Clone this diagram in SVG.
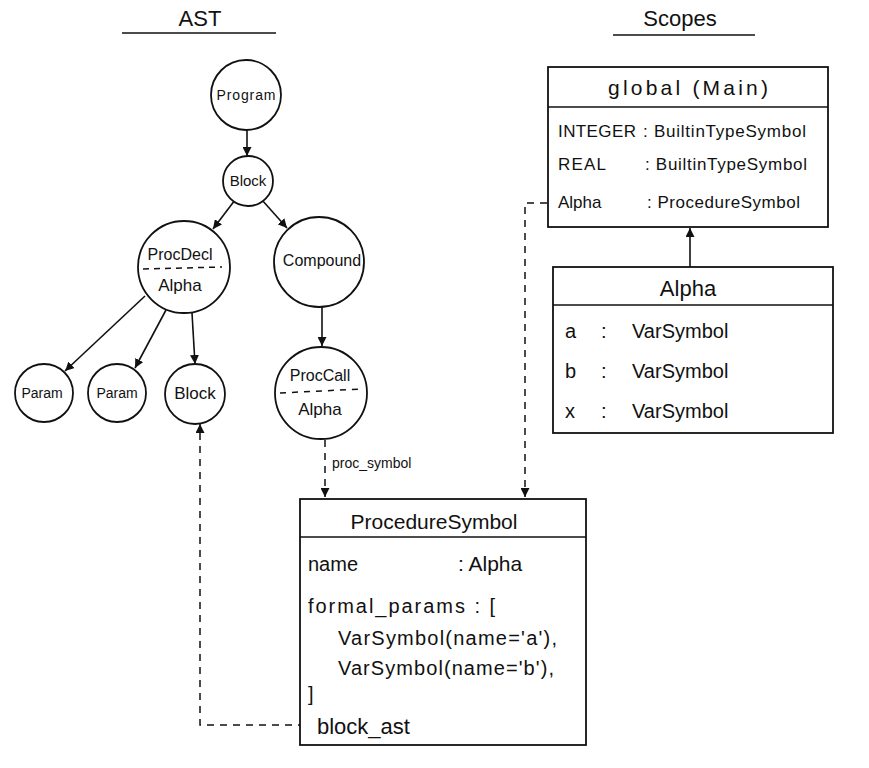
<svg xmlns="http://www.w3.org/2000/svg" width="869" height="768" viewBox="0 0 869 768">
<defs>
<marker id="ah" viewBox="0 0 10 10" refX="10" refY="5" markerWidth="9" markerHeight="9" markerUnits="userSpaceOnUse" orient="auto">
<path d="M0,0 L10,5 L0,10 z" fill="#111"/>
</marker>
</defs>
<style>
.n{fill:#fff;stroke:#111;stroke-width:1.8}
.b{fill:#fff;stroke:#111;stroke-width:1.8}
.l{stroke:#111;stroke-width:1.6;fill:none}
.e{stroke:#111;stroke-width:1.6;fill:none;marker-end:url(#ah)}
.d{stroke:#111;stroke-width:1.5;fill:none;stroke-dasharray:7 6}
.de{stroke:#111;stroke-width:1.5;fill:none;stroke-dasharray:7 6;marker-end:url(#ah)}
text{font-family:"Liberation Sans",Arial,sans-serif;fill:#111}
.c{font-size:14px;text-anchor:middle}
.h{font-size:21px;text-anchor:middle}
.r{font-size:17px}
.p{font-size:20px}
.v{font-size:20px}
.t{font-size:22px;text-anchor:middle}
</style>
<rect width="869" height="768" fill="#fff"/>
<g id="titles">
<text class="t" x="200" y="26">AST</text>
<line class="l" x1="122" y1="33" x2="276" y2="33"/>
<text class="t" x="680" y="26">Scopes</text>
<line class="l" x1="613" y1="35" x2="755" y2="35"/>
</g>
<g id="connectors">
<line class="e" x1="247" y1="130" x2="247" y2="156"/>
<line class="e" x1="235" y1="200" x2="213" y2="229"/>
<line class="e" x1="262" y1="200" x2="287" y2="228"/>
<line class="e" x1="322" y1="307" x2="322" y2="346"/>
<line class="e" x1="145" y1="296" x2="65" y2="371"/>
<line class="e" x1="166" y1="310" x2="135" y2="368"/>
<line class="e" x1="192" y1="313" x2="195" y2="364"/>
<path class="de" d="M325,440 L325,497"/>
<text x="332" y="468" style="font-size:14px">proc_symbol</text>
<path class="de" d="M305,725 L200,725 L200,424"/>
<path class="de" d="M547,203 L525,203 L525,497"/>
<line class="e" x1="690" y1="267" x2="690" y2="228"/>
</g>
<g id="program">
<circle class="n" cx="246" cy="95" r="35"/>
<text class="c" x="246" y="100" textLength="59">Program</text>
</g>
<g id="block">
<circle class="n" cx="248" cy="181" r="25"/>
<text class="c" x="248" y="186" style="font-size:15px">Block</text>
</g>
<g id="procdecl">
<circle class="n" cx="184" cy="267" r="46"/>
<text class="c" x="180" y="260" style="font-size:16px">ProcDecl</text>
<line class="d" x1="143" y1="269" x2="222" y2="267" style="stroke-dasharray:6 5"/>
<text class="c" x="180" y="291" style="font-size:17px">Alpha</text>
</g>
<g id="compound">
<circle class="n" cx="319" cy="262" r="45"/>
<text class="c" x="322" y="266" style="font-size:16px">Compound</text>
</g>
<g id="param1">
<circle class="n" cx="44" cy="393" r="29"/>
<text class="c" x="42" y="398" style="font-size:14px">Param</text>
</g>
<g id="param2">
<circle class="n" cx="117" cy="393" r="29"/>
<text class="c" x="117" y="398" style="font-size:14px">Param</text>
</g>
<g id="block2">
<circle class="n" cx="195" cy="394" r="30"/>
<text class="c" x="195" y="399" style="font-size:17px">Block</text>
</g>
<g id="proccall">
<circle class="n" cx="321" cy="393" r="46"/>
<text class="c" x="320" y="381" style="font-size:16px">ProcCall</text>
<line class="d" x1="280" y1="393" x2="362" y2="389" style="stroke-dasharray:6 6"/>
<text class="c" x="320" y="415" style="font-size:17px">Alpha</text>
</g>
<g id="global">
<rect class="b" x="548" y="67" width="280" height="160"/>
<line class="l" x1="548" y1="107" x2="828" y2="107"/>
<text class="h" x="688" y="95" textLength="160">global (Main)</text>
<text class="r" x="558" y="137" textLength="78">INTEGER</text>
<text class="r" x="643" y="137" textLength="163">: BuiltinTypeSymbol</text>
<text class="r" x="558" y="170" textLength="48">REAL</text>
<text class="r" x="645" y="170" textLength="162">: BuiltinTypeSymbol</text>
<text class="r" x="558" y="208">Alpha</text>
<text class="r" x="647" y="208" textLength="153">: ProcedureSymbol</text>
</g>
<g id="alpha">
<rect class="b" x="553" y="267" width="280" height="166"/>
<line class="l" x1="553" y1="305" x2="833" y2="305"/>
<text class="h" x="688" y="296" style="font-size:22px">Alpha</text>
<text class="v" x="565" y="338">a</text>
<text class="v" x="601" y="338">:</text>
<text class="v" x="632" y="338">VarSymbol</text>
<text class="v" x="565" y="378">b</text>
<text class="v" x="601" y="378">:</text>
<text class="v" x="632" y="378">VarSymbol</text>
<text class="v" x="565" y="418">x</text>
<text class="v" x="601" y="418">:</text>
<text class="v" x="632" y="418">VarSymbol</text>
</g>
<g id="proceduresymbol">
<rect class="b" x="300" y="499" width="286" height="246"/>
<line class="l" x1="300" y1="537" x2="586" y2="537"/>
<text class="h" x="434" y="529">ProcedureSymbol</text>
<text class="p" x="308" y="571">name</text>
<text class="p" x="458" y="571" style="font-size:21px">: Alpha</text>
<text class="p" x="308" y="613" textLength="187">formal_params : [</text>
<text class="p" x="338" y="645" textLength="219">VarSymbol(name='a'),</text>
<text class="p" x="338" y="675" textLength="216">VarSymbol(name='b'),</text>
<text class="p" x="308" y="701">]</text>
<text class="p" x="317" y="734" style="font-size:22px">block_ast</text>
</g>
</svg>
